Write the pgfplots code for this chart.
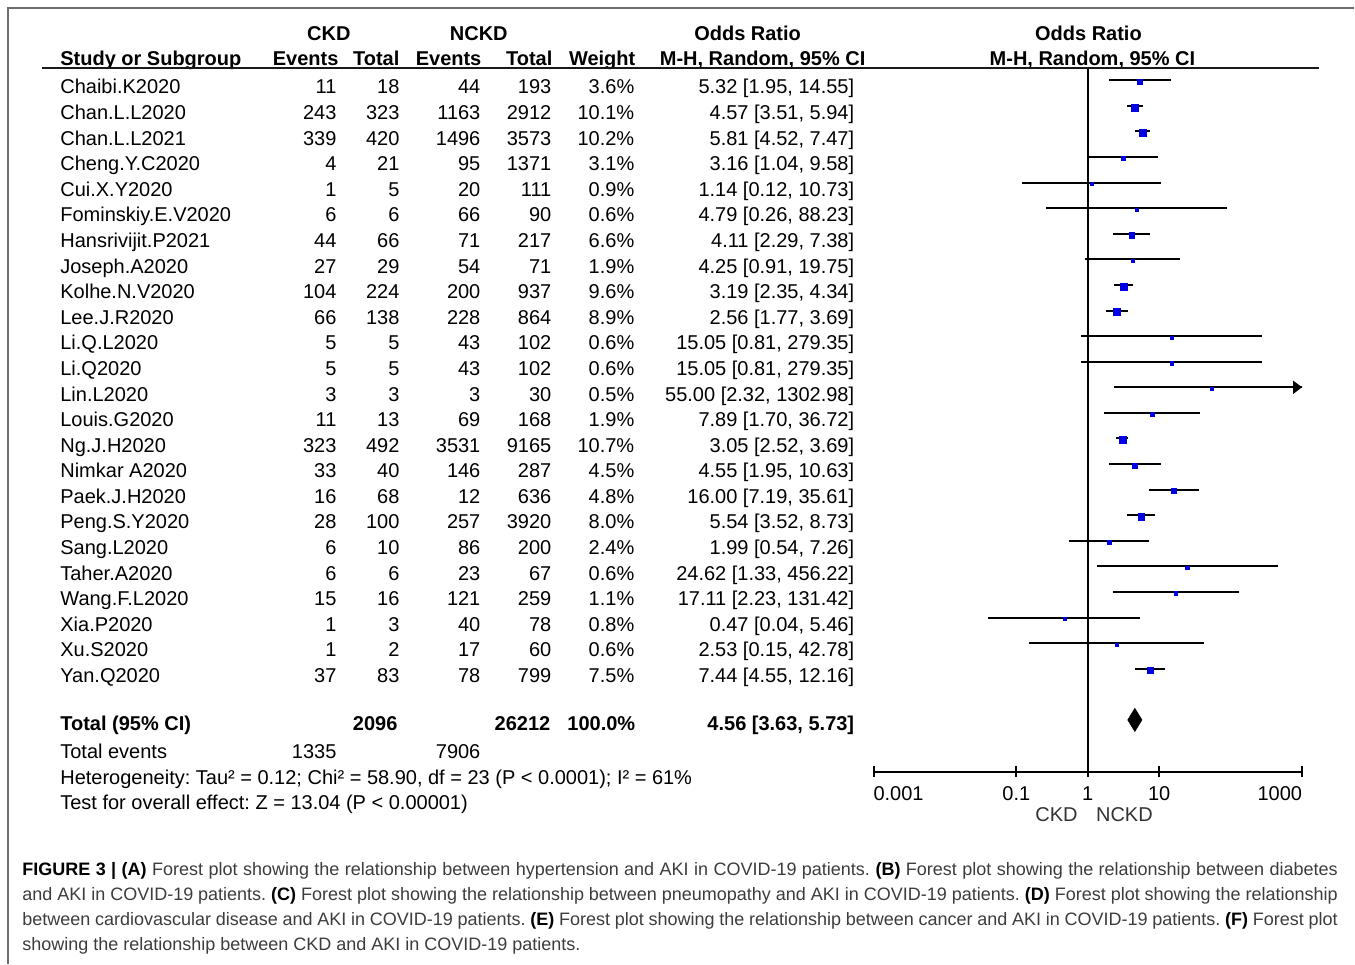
\documentclass[border=0pt]{standalone}
\usepackage{pgfplots}
\usepackage{pgfplotstable}
\pgfplotsset{compat=1.18}
\usetikzlibrary{arrows.meta}
\usepackage{fontspec}
\setmainfont{Liberation Sans}
\frenchspacing

\definecolor{sqblue}{RGB}{0,0,225}
\definecolor{framegray}{RGB}{110,110,110}
\definecolor{capgray}{RGB}{60,60,60}
\definecolor{lblgray}{RGB}{50,50,50}

\newcommand\tabfont{\fontsize{10}{11}\selectfont}
\newcommand\captfont{\fontsize{9}{10}\selectfont}
\newcommand\cb[1]{{\color{black}\bfseries #1}}

% study-level data: events/totals, weight (%), odds ratio and 95% CI
\pgfplotstableread[col sep=comma]{
name,ea,ta,eb,tb,w,or,lo,hi
Chaibi.K2020,11,18,44,193,3.6,5.32,1.95,14.55
Chan.L.L2020,243,323,1163,2912,10.1,4.57,3.51,5.94
Chan.L.L2021,339,420,1496,3573,10.2,5.81,4.52,7.47
Cheng.Y.C2020,4,21,95,1371,3.1,3.16,1.04,9.58
Cui.X.Y2020,1,5,20,111,0.9,1.14,0.12,10.73
Fominskiy.E.V2020,6,6,66,90,0.6,4.79,0.26,88.23
Hansrivijit.P2021,44,66,71,217,6.6,4.11,2.29,7.38
Joseph.A2020,27,29,54,71,1.9,4.25,0.91,19.75
Kolhe.N.V2020,104,224,200,937,9.6,3.19,2.35,4.34
Lee.J.R2020,66,138,228,864,8.9,2.56,1.77,3.69
Li.Q.L2020,5,5,43,102,0.6,15.05,0.81,279.35
Li.Q2020,5,5,43,102,0.6,15.05,0.81,279.35
Lin.L2020,3,3,3,30,0.5,55.00,2.32,1302.98
Louis.G2020,11,13,69,168,1.9,7.89,1.70,36.72
Ng.J.H2020,323,492,3531,9165,10.7,3.05,2.52,3.69
Nimkar A2020,33,40,146,287,4.5,4.55,1.95,10.63
Paek.J.H2020,16,68,12,636,4.8,16.00,7.19,35.61
Peng.S.Y2020,28,100,257,3920,8.0,5.54,3.52,8.73
Sang.L2020,6,10,86,200,2.4,1.99,0.54,7.26
Taher.A2020,6,6,23,67,0.6,24.62,1.33,456.22
Wang.F.L2020,15,16,121,259,1.1,17.11,2.23,131.42
Xia.P2020,1,3,40,78,0.8,0.47,0.04,5.46
Xu.S2020,1,2,17,60,0.6,2.53,0.15,42.78
Yan.Q2020,37,83,78,799,7.5,7.44,4.55,12.16
}\studies

% pooled estimate
\def\totOR{4.56}\def\totLO{3.63}\def\totHI{5.73}

\begin{document}
\begin{tikzpicture}[x=0.5pt,y=-0.5pt]
\path (0,0) rectangle (1355,964);

% page frame
\draw[framegray, line width=0.7pt] (8,964) -- (8,8) -- (1355,8);

\begin{axis}[
  at={(437pt,-386pt)}, anchor=south west,
  scale only axis, width=214.35pt, height=352pt,
  xmode=log, xmin=0.001, xmax=1000,
  ymin=-27.02, ymax=0.48,
  axis y line=none, axis x line=bottom,
  x axis line style={-, line width=1pt, black},
  xtick={0.001,0.1,1,10,1000},
  xticklabels={{\rlap{0.001}},{0.1},{1},{10},{\llap{1000}}},
  minor xtick={},
  xtick align=center, major tick length=5.5pt,
  tick style={line width=1pt, black},
  xticklabel style={font=\tabfont, anchor=base, inner sep=0pt, yshift=-11.5pt},
  clip=true,
]
% line of no effect
\addplot[line width=1.2pt, black] coordinates {(1,0.48) (1,-27.02)};
% confidence intervals
\addplot[draw=none, mark=none,
  error bars/.cd, x dir=both, x explicit, error mark=none,
  error bar style={line width=1pt, draw=black}]
  table[x=or, y expr=-\coordindex,
        x error plus expr=\thisrow{hi}-\thisrow{or},
        x error minus expr=\thisrow{or}-\thisrow{lo}] {\studies};
% interval running past the axis
\addplot[line width=1pt, black, -{Triangle[length=4.5pt, width=6.5pt]}]
  coordinates {(100,-12) (1000,-12)};
% study estimates, sized by weight
\addplot[scatter, only marks, mark=square*,
  scatter/use mapped color={draw=sqblue, fill=sqblue},
  mark options={line width=0.2pt},
  point meta=\thisrow{w},
  visualization depends on={\thisrow{w}\as\wt},
  scatter/@pre marker code/.append style={/tikz/mark size=0.75+0.1*\wt, /tikz/yshift=-0.7pt}]
  table[x=or, y expr=-\coordindex] {\studies};
% pooled estimate
\addplot[fill=black, draw=black, line width=0.3pt]
  coordinates {(\totLO,-25) (\totOR,-24.55) (\totHI,-25) (\totOR,-25.45)} --cycle;
\end{axis}

\begin{scope}[every node/.style={inner sep=0pt, font=\tabfont}]
% column headers
\begin{scope}[every node/.append style={font=\tabfont\bfseries}]
\node[anchor=base] at (329,41) {CKD};
\node[anchor=base] at (479,41) {NCKD};
\node[anchor=base] at (748,41) {Odds Ratio};
\node[anchor=base] at (1089,41) {Odds Ratio};
\node[anchor=base west] at (60,66) {Study or Subgroup};
\node[anchor=base east] at (339,66) {Events};
\node[anchor=base east] at (400,66) {Total};
\node[anchor=base east] at (482,66) {Events};
\node[anchor=base east] at (553,66) {Total};
\node[anchor=base east] at (636,66) {Weight};
\node[anchor=base] at (763,66) {M-H, Random, 95\% CI};
\node[anchor=base] at (1093,66) {M-H, Random, 95\% CI};
\end{scope}
\draw[line width=1pt, black!90] (42,68) -- (1320,68);

% study rows
\foreach \i in {0,...,23}{
  \pgfmathsetmacro\yb{94+25.6*\i}
  \pgfplotstablegetelem{\i}{name}\of\studies\let\cName\pgfplotsretval
  \pgfplotstablegetelem{\i}{ea}\of\studies\let\cEa\pgfplotsretval
  \pgfplotstablegetelem{\i}{ta}\of\studies\let\cTa\pgfplotsretval
  \pgfplotstablegetelem{\i}{eb}\of\studies\let\cEb\pgfplotsretval
  \pgfplotstablegetelem{\i}{tb}\of\studies\let\cTb\pgfplotsretval
  \pgfplotstablegetelem{\i}{w}\of\studies\let\cW\pgfplotsretval
  \pgfplotstablegetelem{\i}{or}\of\studies\let\cOr\pgfplotsretval
  \pgfplotstablegetelem{\i}{lo}\of\studies\let\cLo\pgfplotsretval
  \pgfplotstablegetelem{\i}{hi}\of\studies\let\cHi\pgfplotsretval
  \node[anchor=base west] at (60,\yb) {\cName};
  \node[anchor=base east] at (337,\yb) {\cEa};
  \node[anchor=base east] at (400,\yb) {\cTa};
  \node[anchor=base east] at (481,\yb) {\cEb};
  \node[anchor=base east] at (552,\yb) {\cTb};
  \node[anchor=base east] at (635,\yb) {\cW\%};
  \node[anchor=base east] at (855,\yb) {\cOr\ [\cLo, \cHi]};
}

% totals
\begin{scope}[every node/.append style={font=\tabfont\bfseries}]
\node[anchor=base west] at (60,731) {Total (95\% CI)};
\node[anchor=base east] at (398,731) {2096};
\node[anchor=base east] at (551,731) {26212};
\node[anchor=base east] at (636,731) {100.0\%};
\node[anchor=base east] at (855,731) {\totOR\ [\totLO, \totHI]};
\end{scope}
\node[anchor=base west] at (60,759) {Total events};
\node[anchor=base east] at (337,759) {1335};
\node[anchor=base east] at (481,759) {7906};
\node[anchor=base west] at (60,785) {Heterogeneity: Tau² = 0.12; Chi² = 58.90, df = 23 (P < 0.0001); I² = 61\%};
\node[anchor=base west] at (60,810) {Test for overall effect: Z = 13.04 (P < 0.00001)};

% favours labels
\node[anchor=base, text=lblgray] at (1057,822) {CKD};
\node[anchor=base, text=lblgray] at (1125,822) {NCKD};
\end{scope}

% caption
\begin{scope}[every node/.style={inner sep=0pt, anchor=base west, font=\captfont, text=capgray}]
\node at (22,876) {\makebox[658pt][s]{\cb{FIGURE 3 | (A)} Forest plot showing the relationship between hypertension and AKI in COVID-19 patients. \cb{(B)} Forest plot showing the relationship between diabetes}};
\node at (22,901) {\makebox[658pt][s]{and AKI in COVID-19 patients. \cb{(C)} Forest plot showing the relationship between pneumopathy and AKI in COVID-19 patients. \cb{(D)} Forest plot showing the relationship}};
\node at (22,926) {\makebox[658pt][s]{between cardiovascular disease and AKI in COVID-19 patients. \cb{(E)} Forest plot showing the relationship between cancer and AKI in COVID-19 patients. \cb{(F)} Forest plot}};
\node at (22,951) {showing the relationship between CKD and AKI in COVID-19 patients.};
\end{scope}
\end{tikzpicture}
\end{document}
